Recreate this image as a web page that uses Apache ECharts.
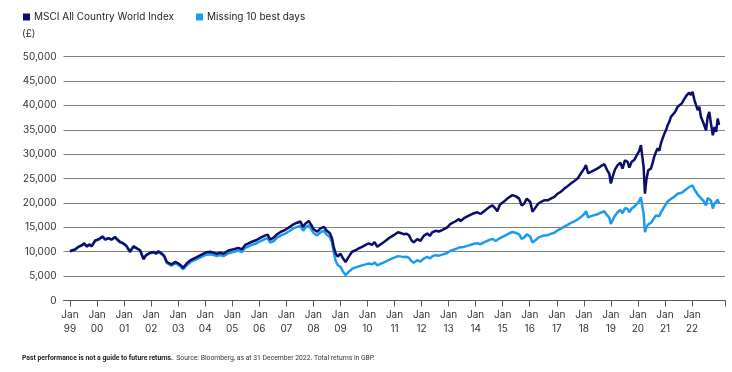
<!DOCTYPE html>
<html><head><meta charset="utf-8">
<script src="https://cdn.jsdelivr.net/npm/echarts@6/dist/echarts.min.js"></script>
<style>html,body{margin:0;padding:0;background:#fff}#c{width:732px;height:372px}</style>
</head><body><div id="c"></div>
<script>
// Decimal-year dates of the readings
const dates = [
  1999.00,1999.10,1999.20,1999.31,1999.43,1999.52,1999.62,1999.72,1999.80,1999.93,
  2000.05,2000.12,2000.21,2000.30,2000.42,2000.54,2000.67,2000.75,2000.85,2000.97,
  2001.07,2001.14,2001.22,2001.35,2001.47,2001.59,2001.66,2001.72,2001.81,2001.96,
  2002.09,2002.19,2002.27,2002.40,2002.49,2002.58,2002.65,2002.75,2002.89,
  2003.01,2003.10,2003.18,2003.30,2003.44,2003.57,2003.69,2003.81,2003.94,
  2004.06,2004.18,2004.31,2004.43,2004.56,2004.68,2004.86,
  2005.05,2005.23,2005.36,2005.48,2005.60,2005.75,2005.90,
  2006.05,2006.20,2006.31,2006.40,2006.53,2006.66,2006.80,2006.96,
  2007.10,2007.20,2007.30,2007.40,2007.52,2007.62,2007.71,2007.83,2007.92,
  2008.01,2008.14,2008.26,2008.39,2008.48,2008.61,2008.69,2008.75,2008.82,2008.90,
  2009.00,2009.10,2009.19,2009.31,2009.43,2009.56,2009.68,2009.80,2009.93,
  2010.05,2010.17,2010.26,2010.36,2010.48,2010.61,2010.73,2010.85,2010.97,
  2011.13,2011.25,2011.34,2011.45,2011.53,2011.62,2011.71,2011.84,2011.96,
  2012.08,2012.21,2012.31,2012.39,2012.52,2012.64,2012.76,2012.95,
  2013.07,2013.26,2013.38,2013.44,2013.57,2013.75,2013.94,
  2014.06,2014.18,2014.31,2014.49,2014.62,2014.74,2014.80,2014.90,
  2015.05,2015.17,2015.27,2015.36,2015.49,2015.61,2015.70,2015.79,2015.89,
  2016.02,2016.10,2016.23,2016.31,2016.41,2016.53,2016.66,2016.78,2016.91,
  2017.03,2017.15,2017.28,2017.40,2017.52,2017.65,2017.77,2017.89,
  2018.02,2018.08,2018.16,2018.26,2018.39,2018.51,2018.63,2018.76,2018.86,2018.94,
  2019.00,2019.06,2019.15,2019.25,2019.35,2019.43,2019.52,2019.62,2019.68,2019.77,2019.86,2019.96,
  2020.05,2020.11,2020.17,2020.21,2020.26,2020.31,2020.38,2020.48,2020.54,2020.60,2020.67,2020.73,2020.79,2020.85,2020.91,2020.98,
  2021.04,2021.10,2021.16,2021.22,2021.28,2021.35,2021.41,2021.47,2021.53,2021.62,2021.69,2021.74,2021.81,2021.90,2021.96,
  2022.02,2022.09,2022.15,2022.21,2022.27,2022.33,2022.43,2022.52,2022.58,2022.64,2022.70,2022.77,2022.83,2022.89,2022.95,2023.00
];

// MSCI All Country World Index (£)
const msciValues = [
  10100,10300,10500,11000,11300,11700,11100,11500,11100,12300,
  12500,12600,13100,12500,12800,12500,13000,12500,12000,11700,
  11300,11500,10000,11100,10700,10300,10100,8500,9300,9800,
  9950,9650,10100,9600,9100,7900,8300,7400,7900,
  7600,7200,6700,7500,8200,8600,8900,9250,9600,
  9900,10000,9800,9600,9800,9600,10250,
  10500,10800,10500,11400,11700,12100,12400,
  12900,13300,13500,12500,12900,13600,14100,14500,
  15000,15400,15700,15950,16200,15100,15800,16300,15500,
  14600,14100,14800,15100,14400,13800,12700,11000,9700,9000,
  9600,8600,7900,9000,10000,10300,10700,11000,11400,
  11700,11400,12000,11000,11500,12000,12500,13000,13400,
  14000,13800,13600,13700,13400,12400,11900,12600,12250,
  13250,13750,13250,13950,14300,14150,14450,15000,
  15700,16250,16700,16250,16900,17400,17900,
  18100,17750,18300,19100,19500,18800,18300,19700,
  20300,20900,21300,21600,21350,20900,19500,19850,20900,
  20200,18200,19200,19850,20200,20550,20550,20900,21250,
  21900,22300,22950,23450,24000,24500,25000,26050,
  27100,27750,26050,26400,26750,27100,27550,27950,26750,26050,
  24000,25300,26850,27750,28250,27050,28750,28450,27250,28450,28800,29800,
  30700,31850,31500,27400,21900,24650,26700,27050,28100,29450,30500,31200,30700,32200,33200,34250,
  34950,35950,36650,37650,38000,38500,39050,39750,40050,40400,41100,41450,42150,42600,42150,
  42800,41100,40050,39050,39750,37650,36300,34900,37650,38700,36300,33900,35600,34600,37300,36000
];

// Missing 10 best days (£)
const missingValues = [
  10100,10300,10500,11000,11300,11700,11100,11500,11100,12300,
  12500,12600,13100,12500,12800,12500,13000,12500,12000,11700,
  11300,11500,10000,11100,10700,10300,10100,8500,9250,9700,
  9850,9550,9950,9450,8950,7700,8050,7150,7600,
  7300,6900,6400,7100,7800,8200,8500,8800,9150,
  9400,9500,9300,9100,9300,9100,9700,
  9950,10250,9950,10800,11100,11450,11750,
  12200,12600,12800,11850,12200,12900,13350,13700,
  14200,14600,14900,15100,15350,14300,14950,15400,14650,
  13800,13350,14000,14300,13600,13000,11900,10000,8200,7300,
  6900,5900,5200,5900,6500,6800,7000,7200,7400,
  7600,7400,7800,7200,7500,7800,8150,8500,8750,
  9100,9000,8900,8950,8750,8100,7750,8250,8000,
  8600,8950,8600,9050,9300,9200,9400,9750,
  10200,10550,10850,10550,11000,11300,11650,
  11750,11550,11900,12400,12650,12200,11900,12800,
  13200,13550,13850,14050,13850,13550,12650,12900,13550,
  13100,11900,12450,12900,13100,13350,13400,13650,13900,
  14400,14750,15150,15500,15900,16250,16600,17100,
  17750,18300,17050,17300,17500,17700,18000,18300,17500,17000,
  15700,16400,17400,18100,18600,17900,18900,18800,18100,18900,19200,19800,
  20400,21200,21000,17800,14000,15000,15600,15900,16400,16900,17450,17700,17250,18100,18600,19300,
  19800,20300,20550,20800,20900,21300,21600,21900,22000,22100,22400,22600,23000,23300,23100,
  23600,22800,22250,21700,22000,21000,20400,19500,21000,21300,20500,18850,19850,19500,20700,19900
];

const seriesNames = ['MSCI All Country World Index', 'Missing 10 best days'];
const tickYears = [1999,2000,2001,2002,2003,2004,2005,2006,2007,2008,2009,2010,2011,2012,2013,2014,2015,2016,2017,2018,2019,2020,2021,2022];
const tickLabels = ['99','00','01','02','03','04','05','06','07','08','09','10','11','12','13','14','15','16','17','18','19','20','21','22'];

const X_MIN = 1998.76, X_MAX = 2023.22;
const DARK = '#0b0c6b', LIGHT = '#1a9bef';
const FONT = 'Inter, "Open Sans", sans-serif';

const n = Math.min(dates.length, msciValues.length, missingValues.length);
const msciData = [], missData = [];
for (let i = 0; i < n; i++) { msciData.push([dates[i], msciValues[i]]); missData.push([dates[i], missingValues[i]]); }

const chart = echarts.init(document.getElementById('c'), null, {renderer: 'canvas'});
chart.setOption({
  animation: false,
  backgroundColor: '#ffffff',
  textStyle: {fontFamily: FONT},
  legend: {
    left: 18, top: 7, itemWidth: 7, itemHeight: 7, itemGap: 22, icon: 'rect',
    data: seriesNames,
    textStyle: {fontSize: 10, color: '#222', fontFamily: FONT, padding: [0,0,0,-1]}
  },
  graphic: [
    {type: 'text', left: 22, top: 29, style: {text: '(£)', fontSize: 10, fill: '#333', fontFamily: FONT}},
    {type: 'text', left: 22, top: 352, style: {
      text: '{b|Past performance is not a guide to future returns.} {n|Source: Bloomberg, as at 31 December 2022. Total returns in GBP.}',
      rich: {
        b: {fontSize: 6.8, fontWeight: 'bold', fill: '#222', fontFamily: 'Roboto, sans-serif'},
        n: {fontSize: 6.8, fill: '#333', fontFamily: 'Roboto, sans-serif'}
      }
    }}
  ],
  grid: {left: 63.5, right: 7, top: 56.7, bottom: 71.5, containLabel: false},
  xAxis: {
    type: 'value', min: X_MIN, max: X_MAX,
    axisLine: {show: true, lineStyle: {color: '#555', width: 1}},
    axisTick: {show: true, length: 6, lineStyle: {color: '#555'}, customValues: tickYears.concat([X_MAX])},
    axisLabel: {
      customValues: tickYears, margin: 7, fontSize: 10, color: '#333', lineHeight: 14, fontFamily: FONT,
      formatter: v => { const i = tickYears.indexOf(Math.round(v)); return i < 0 ? '' : 'Jan\n' + tickLabels[i]; }
    },
    splitLine: {show: false}
  },
  yAxis: {
    type: 'value', min: 0, max: 50000, interval: 5000,
    axisLine: {show: false}, axisTick: {show: false},
    axisLabel: {fontSize: 10, color: '#333', margin: 7, fontFamily: FONT,
      formatter: v => v.toLocaleString('en-US')},
    splitLine: {show: true, lineStyle: {color: '#808080', width: 1}}
  },
  series: [
    {name: seriesNames[1], type: 'line', data: missData, showSymbol: false, color: LIGHT,
     lineStyle: {width: 2.5, color: LIGHT}, z: 2},
    {name: seriesNames[0], type: 'line', data: msciData, showSymbol: false, color: DARK,
     lineStyle: {width: 2.5, color: DARK}, z: 3}
  ]
});
</script>
</body></html>
